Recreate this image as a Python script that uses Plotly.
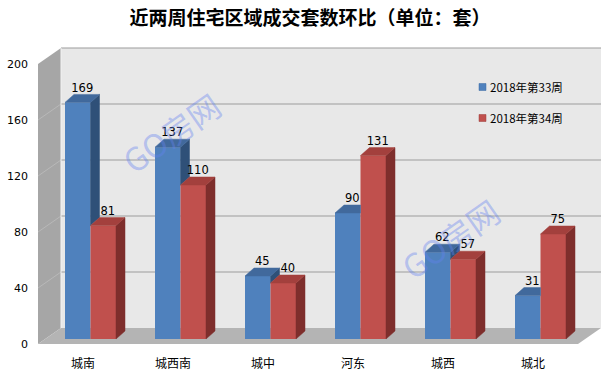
import plotly.graph_objects as go

# ---------------- data ----------------
categories = ["城南", "城西南", "城中", "河东", "城西", "城北"]
week33 = [169, 137, 45, 90, 62, 31]
week34 = [81, 110, 40, 131, 57, 75]
series_names = ["2018年第33周", "2018年第34周"]
y_ticks = [0, 40, 80, 120, 160, 200]
title_text = "近两周住宅区域成交套数环比（单位：套）"
watermark = "GO房网"

# ---------------- geometry (pixels -> data) ----------------
W, H = 612, 375
X0_PX, PX_PER_CAT = 38, 90          # x=-0.5 at 38 px
Y0_PX, PX_PER_UNIT = 344, 1.4       # y=0 at 344 px
RIGHT_PX, TOP_PX = 602, 46
x_range = [-0.5, -0.5 + (RIGHT_PX - X0_PX) / PX_PER_CAT]
y_range = [0, (Y0_PX - TOP_PX) / PX_PER_UNIT]


def dx(px):
    return px / PX_PER_CAT


def dy(px):
    return px / PX_PER_UNIT


def X(px):
    return -0.5 + (px - X0_PX) / PX_PER_CAT


def Y(px):
    return (Y0_PX - px) / PX_PER_UNIT


WDX, WDY = dx(23), dy(16)            # wall depth
BX0, BY0 = dx(7.5), dy(5)            # bar base position on floor
BW = dx(25.5)                        # bar width
BDX, BDY = dx(9), dy(8)              # bar depth

BLUE, BLUE_TOP, BLUE_SIDE = "#4f81bd", "#41699c", "#2f5078"
RED, RED_TOP, RED_SIDE = "#c0504d", "#a3403d", "#7e2e2c"

fig = go.Figure()

# ---------------- walls ----------------
xl_front, xr_front = -0.5, 5.5
shapes = []
shapes.append(dict(type="path", xref="x", yref="y", layer="below",
                   path=f"M{xl_front+WDX},{WDY} L{xr_front+WDX},{WDY} L{xr_front+WDX},{200+WDY} L{xl_front+WDX},{200+WDY} Z",
                   fillcolor="#e8e8e8", line=dict(width=0)))
shapes.append(dict(type="path", xref="x", yref="y", layer="below",
                   path=f"M{xl_front},0 L{xl_front+WDX},{WDY} L{xl_front+WDX},{200+WDY} L{xl_front},200 Z",
                   fillcolor="#a6a6a6", line=dict(width=0)))
shapes.append(dict(type="path", xref="x", yref="y", layer="below",
                   path=f"M{xl_front},0 L{xr_front},0 L{xr_front+WDX},{WDY} L{xl_front+WDX},{WDY} Z",
                   fillcolor="#b4b4b4", line=dict(width=0)))
for v in y_ticks[1:]:
    shapes.append(dict(type="line", xref="x", yref="y", layer="below",
                       x0=xl_front + WDX, x1=xr_front + WDX, y0=v + WDY, y1=v + WDY,
                       line=dict(color="#9c9c9c", width=1.2 if v == 200 else 1)))
    if v < 200:
        shapes.append(dict(type="line", xref="x", yref="y", layer="below",
                           x0=xl_front, x1=xl_front + WDX, y0=v, y1=v + WDY,
                           line=dict(color="#b8b8b8", width=1)))
shapes.append(dict(type="line", xref="x", yref="y", layer="below",
                   x0=xl_front + WDX, x1=xl_front + WDX, y0=WDY, y1=200 + WDY,
                   line=dict(color="#f2f2f2", width=1)))

# ---------------- bars (front faces) ----------------
idx = list(range(len(categories)))
fig.add_trace(go.Bar(x=idx, y=week33, base=[BY0] * len(idx), offset=BX0 - BW, width=BW,
                     marker=dict(color=BLUE, line=dict(width=0)), name=series_names[0],
                     showlegend=False, hoverinfo="skip"))
fig.add_trace(go.Bar(x=idx, y=week34, base=[BY0] * len(idx), offset=BX0, width=BW,
                     marker=dict(color=RED, line=dict(width=0)), name=series_names[1],
                     showlegend=False, hoverinfo="skip"))


# ---------------- 3D faces ----------------
def poly_trace(polys, color):
    xs, ys = [], []
    for p in polys:
        for (a, b) in p:
            xs.append(a)
            ys.append(b)
        xs.append(p[0][0])
        ys.append(p[0][1])
        xs.append(None)
        ys.append(None)
    return go.Scatter(x=xs, y=ys, mode="lines", fill="toself", fillcolor=color,
                      line=dict(width=0.5, color=color), showlegend=False, hoverinfo="skip")


blue_top, blue_side, red_top, red_side = [], [], [], []
for i, (b, r) in enumerate(zip(week33, week34)):
    xl, xr = i + BX0 - BW, i + BX0
    yt = BY0 + b
    rt = BY0 + r
    if rt <= yt:
        blue_top.append([(xl, yt), (xr, yt), (xr + BDX, yt + BDY), (xl + BDX, yt + BDY)])
    elif rt >= yt + BDY:
        blue_top.append([(xl, yt), (xr, yt), (xr, yt + BDY), (xl + BDX, yt + BDY)])
    else:
        t = (rt - yt) / BDY
        blue_top.append([(xl, yt), (xr, yt), (xr, rt), (xr + BDX * t, rt),
                         (xr + BDX, yt + BDY), (xl + BDX, yt + BDY)])
    if yt > rt:
        blue_side.append([(xr, rt), (xr, yt), (xr + BDX, yt + BDY), (xr + BDX, rt + BDY)])
    xl2, xr2 = i + BX0, i + BX0 + BW
    red_top.append([(xl2, rt), (xr2, rt), (xr2 + BDX, rt + BDY), (xl2 + BDX, rt + BDY)])
    red_side.append([(xr2, BY0), (xr2, rt), (xr2 + BDX, rt + BDY), (xr2 + BDX, BY0 + BDY)])

fig.add_trace(poly_trace(blue_side, BLUE_SIDE))
fig.add_trace(poly_trace(blue_top, BLUE_TOP))
fig.add_trace(poly_trace(red_side, RED_SIDE))
fig.add_trace(poly_trace(red_top, RED_TOP))

# ---------------- value labels ----------------
for vals, off in ((week33, BX0 - BW / 2), (week34, BX0 + BW / 2)):
    fig.add_trace(go.Scatter(
        x=[i + off + BDX / 2 for i in idx], y=[BY0 + v + BDY for v in vals],
        mode="text", text=[str(v) for v in vals], textposition="top center",
        textfont=dict(family="DejaVu Sans", size=11.5, color="#000000"),
        showlegend=False, hoverinfo="skip", cliponaxis=False))

# ---------------- legend (manual) ----------------
annotations = []
for name, col, edge, ypx in zip(series_names, [BLUE, RED], ["#3a6aa5", "#9c3c3a"], [87, 118]):
    shapes.append(dict(type="rect", xref="x", yref="y", layer="above",
                       x0=X(479), x1=X(486), y0=Y(ypx + 3.5), y1=Y(ypx - 3.5),
                       fillcolor=col, line=dict(color=edge, width=0.5)))
    annotations.append(dict(x=X(488), y=Y(ypx), xref="x", yref="y", text=name, showarrow=False,
                            xanchor="left", yanchor="middle",
                            font=dict(family="Noto Sans CJK SC", size=11.5, color="#000000")))

# ---------------- watermarks ----------------
for cx, cy in ((171, 132), (450, 238)):
    annotations.append(dict(x=X(cx), y=Y(cy), xref="x", yref="y", text=watermark, showarrow=False,
                            textangle=-35, xanchor="center", yanchor="middle",
                            font=dict(family="Noto Sans CJK SC", size=32, color="rgba(100,130,240,0.40)")))

fig.update_layout(
    width=W, height=H,
    margin=dict(l=X0_PX, r=W - RIGHT_PX, t=TOP_PX, b=H - Y0_PX, autoexpand=False),
    paper_bgcolor="#ffffff", plot_bgcolor="rgba(0,0,0,0)",
    barmode="overlay",
    showlegend=False,
    title=dict(text=title_text, x=310 / W, xanchor="center", y=1 - 18 / H, yanchor="middle",
               font=dict(family="Noto Sans CJK SC", size=19, color="#000000", weight="bold")),
    xaxis=dict(range=x_range, tickmode="array", tickvals=idx, ticktext=categories,
               showgrid=False, zeroline=False, showline=False, ticks="",
               tickfont=dict(family="Noto Sans CJK SC", size=12, color="#000000"),
               ticklabelstandoff=11, fixedrange=True, automargin=False),
    yaxis=dict(range=y_range, tickmode="array", tickvals=y_ticks,
               showgrid=False, zeroline=False, showline=False, ticks="",
               tickfont=dict(family="DejaVu Sans", size=11, color="#000000"),
               ticklabelstandoff=9, fixedrange=True, automargin=False),
    shapes=shapes, annotations=annotations,
)

fig.write_html("out.html")
